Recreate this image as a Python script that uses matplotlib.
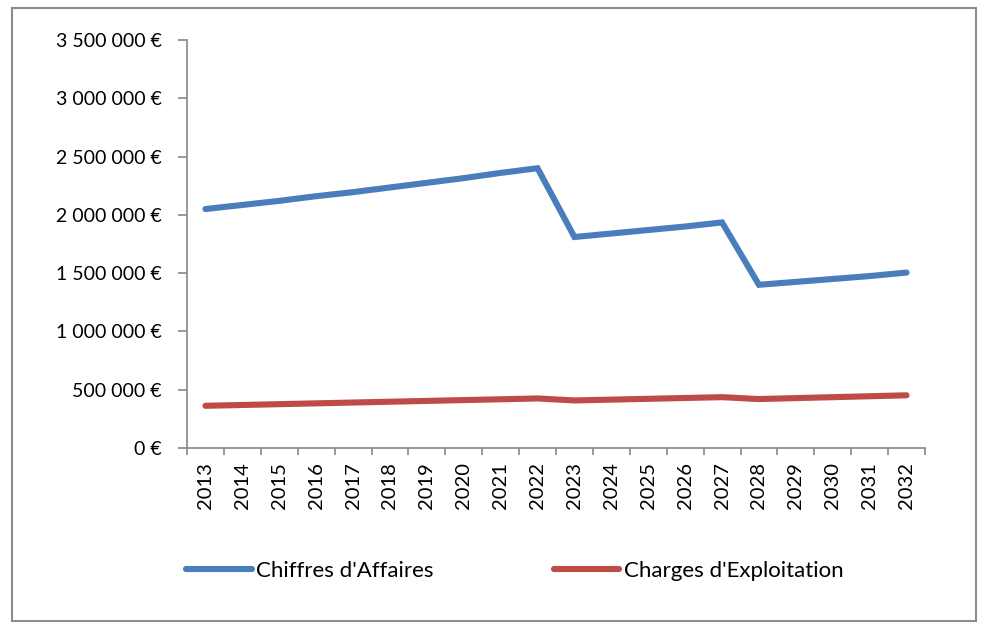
import matplotlib
matplotlib.use("Agg")
import matplotlib.pyplot as plt
from matplotlib.patches import Rectangle
from matplotlib.ticker import FuncFormatter, FixedLocator

plt.rcParams["font.family"] = ["Lato", "DejaVu Sans"]

years = [str(y) for y in range(2013, 2033)]
chiffres_affaires = [
    2050000, 2085000, 2120000, 2160000, 2195000, 2235000, 2275000, 2315000, 2360000, 2400000,
    1810000, 1840000, 1870000, 1900000, 1935000,
    1400000, 1425000, 1450000, 1475000, 1505000,
]
charges_exploitation = [
    362000, 369000, 376000, 383000, 390000, 397000, 404000, 411000, 418000, 425000,
    408000, 415000, 422000, 429000, 436000,
    420000, 428000, 436000, 444000, 452000,
]
y_ticks = [0, 500000, 1000000, 1500000, 2000000, 2500000, 3000000, 3500000]

BLUE = "#4A7EBB"
RED = "#BE4B48"
GRAY = "#868686"


def euro(v, _pos=None):
    s = f"{int(v):,}".replace(",", " ")
    return f"{s} €"


fig = plt.figure(figsize=(9.89, 6.24), dpi=100)
fig.patches.append(Rectangle((12 / 989, 3 / 624), 964 / 989, 613 / 624, transform=fig.transFigure,
                             fill=False, edgecolor="#8c8c8c", linewidth=1.5))

# axes box in pixels: x 187..925, y 40..448
ax = fig.add_axes([187 / 989, 1 - 448 / 624, 738 / 989, 408 / 624])
x = list(range(len(years)))
ax.plot(x, chiffres_affaires, color=BLUE, linewidth=4.4, solid_capstyle="round",
        solid_joinstyle="miter", label="Chiffres d'Affaires")
ax.plot(x, charges_exploitation, color=RED, linewidth=4.4, solid_capstyle="round",
        label="Charges d'Exploitation")

ax.set_xlim(-0.5, len(years) - 0.5)
ax.set_ylim(0, 3500000)
ax.set_yticks(y_ticks)
ax.yaxis.set_major_formatter(FuncFormatter(euro))
ax.set_xticks(x)
ax.set_xticklabels(years, rotation=90)
ax.xaxis.set_minor_locator(FixedLocator([i - 0.5 for i in range(len(years) + 1)]))
ax.tick_params(axis="x", which="major", length=0, pad=10, labelsize=14.5)
ax.tick_params(axis="x", which="minor", length=5, color=GRAY, width=1.2)
ax.tick_params(axis="y", length=6.5, color=GRAY, width=1.2, pad=11.5, labelsize=14)

for side in ["top", "right"]:
    ax.spines[side].set_visible(False)
for side in ["left", "bottom"]:
    ax.spines[side].set_color(GRAY)
    ax.spines[side].set_linewidth(1.2)

fig.legend(loc="center left", bbox_to_anchor=(186 / 989, 1 - 571 / 624), ncol=2, frameon=False,
           fontsize=16, handlelength=2.95, handletextpad=0.2, columnspacing=5.4,
           borderaxespad=0, borderpad=0)

fig.savefig("out.png", dpi=100)
